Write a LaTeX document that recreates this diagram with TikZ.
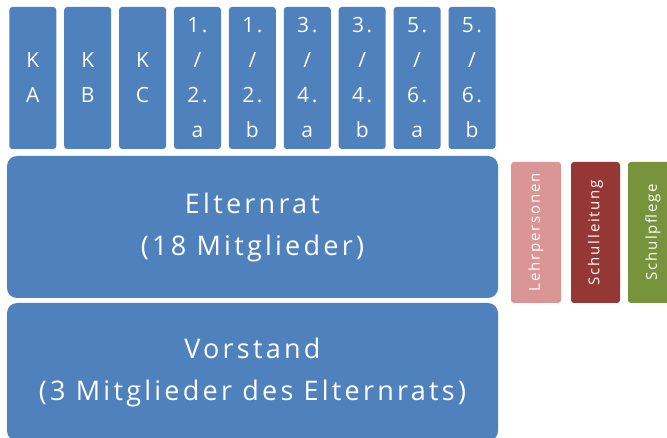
\documentclass[tikz,border=0pt]{standalone}
\usepackage{fontspec}
\setmainfont{Open Sans}[LetterSpace=12]
\definecolor{blau}{HTML}{4F81BD}
\definecolor{rosa}{HTML}{D99694}
\definecolor{dunkelrot}{HTML}{953735}
\definecolor{gruen}{HTML}{77933C}
\tikzset{
  klasse/.style={fill=blau, text=white, rounded corners=3pt, inner sep=0pt,
    minimum width=47pt, minimum height=142pt, align=center,
    font=\fontsize{21}{35}\selectfont},
  gremium/.style={fill=blau, text=white, rounded corners=10pt, inner sep=0pt,
    minimum width=491pt, align=center, font=\fontsize{27}{42}\selectfont},
  partner/.style={text=white, rounded corners=3pt, inner sep=0pt, rotate=90,
    minimum width=141pt, minimum height=50pt, font=\fontsize{15}{18}\selectfont}
}
\begin{document}
\begin{tikzpicture}[x=1pt,y=-1pt]
    \useasboundingbox (0,0) rectangle (667,438);
    % Klassen
    \node[klasse] (KA) at (32.8,78) {K\\A};
    \node[klasse] (KB) at (87.7,78) {K\\B};
    \node[klasse] (KC) at (142.6,78) {K\\C};
    \node[klasse] (K12a) at (197.5,78) {1.\\/\\2.\\a};
    \node[klasse] (K12b) at (252.4,78) {1.\\/\\2.\\b};
    \node[klasse] (K34a) at (307.3,78) {3.\\/\\4.\\a};
    \node[klasse] (K34b) at (362.2,78) {3.\\/\\4.\\b};
    \node[klasse] (K56a) at (417.1,78) {5.\\/\\6.\\a};
    \node[klasse] (K56b) at (472,78) {5.\\/\\6.\\b};
    % Gremien
    \node[gremium, minimum height=142pt] (ER) at (252.5,227)
      {Elternrat\\(18 Mitglieder)};
    \node[gremium, minimum height=138pt] (VS) at (252.5,372)
      {Vorstand\\(3 Mitglieder des Elternrats)};
    % Schule
    \node[partner, fill=rosa] (LP) at (536,232.5) {Lehrpersonen};
    \node[partner, fill=dunkelrot, minimum height=49pt] (SL) at (595.5,232.5) {Schulleitung};
    \node[partner, fill=gruen] (SP) at (653,232.5) {Schulpflege};
\end{tikzpicture}
\end{document}
